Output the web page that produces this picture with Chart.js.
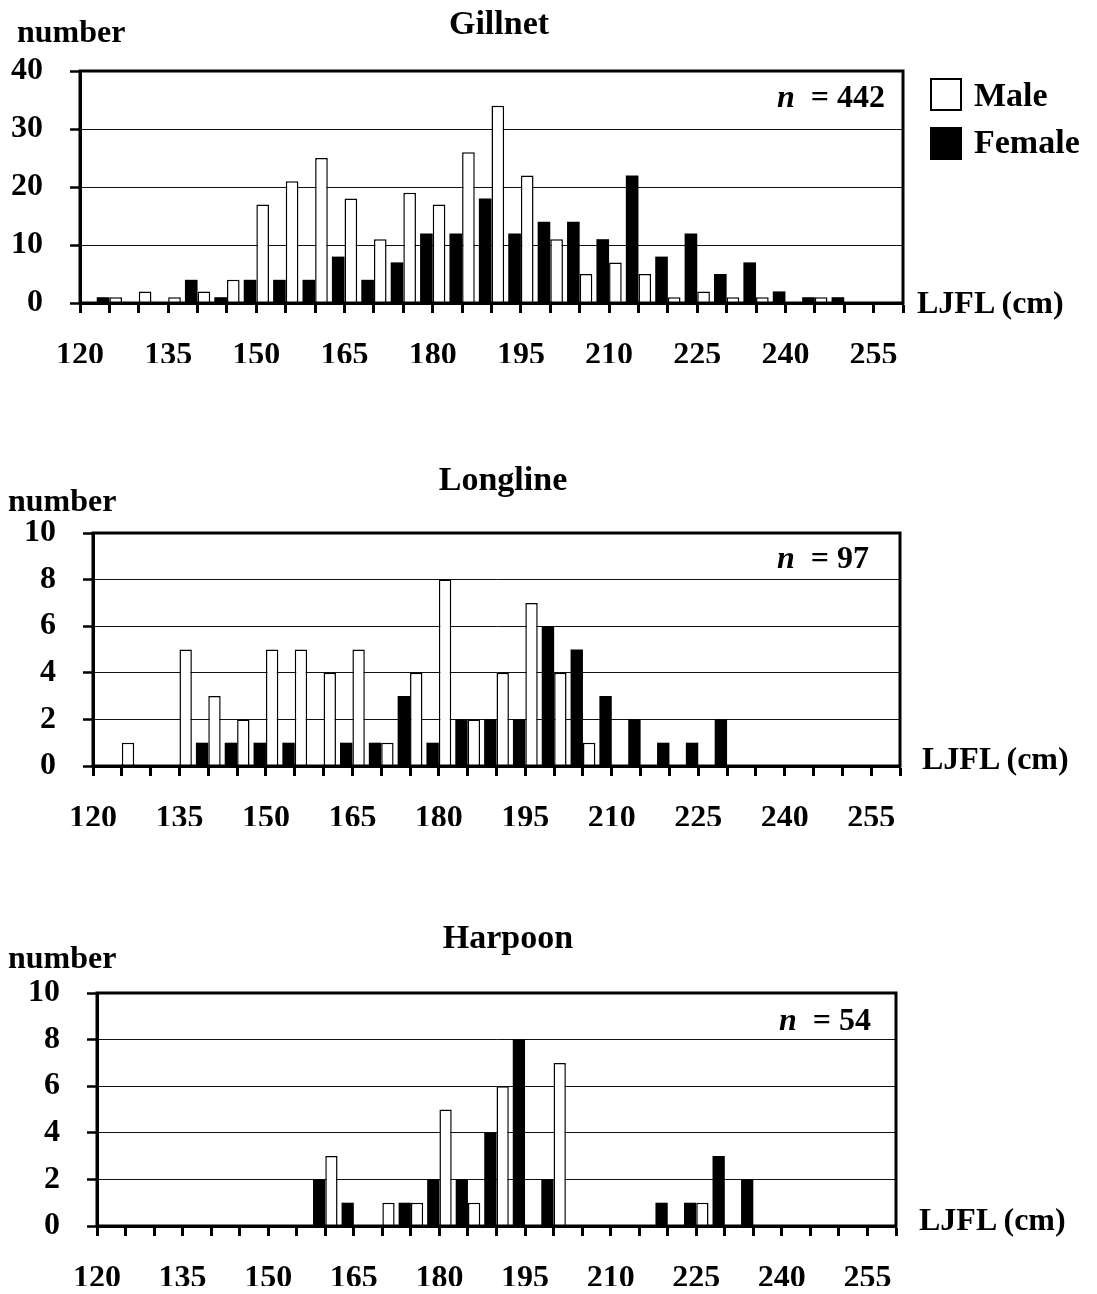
<!DOCTYPE html>
<html>
<head>
<meta charset="utf-8">
<script src="https://cdn.jsdelivr.net/npm/chart.js@4.4.1/dist/chart.umd.min.js"></script>
<style>
  html, body { margin: 0; padding: 0; background: #fff; }
  #wrap { position: relative; width: 1097px; height: 1294px; overflow: hidden; }
  #wrap canvas { position: absolute; left: 0; }
  .lbl { position: absolute; font-family: "Liberation Serif", "Times New Roman", serif; font-weight: bold; font-size: 32px; line-height: 1; white-space: pre; color: #000; }
  .title { font-size: 34px; width: 240px; text-align: center; }
  .key { position: absolute; width: 28px; height: 29px; border: 2px solid #000; }
</style>
</head>
<body>
<div id="wrap">
  <canvas id="gillnetChart" width="1097" height="390" style="top:0px"></canvas>
  <canvas id="longlineChart" width="1097" height="400" style="top:450px"></canvas>
  <canvas id="harpoonChart" width="1097" height="384" style="top:910px"></canvas>

  <div class="lbl title" style="left:379px;top:6px">Gillnet</div>
  <div class="lbl" style="left:17px;top:15px">number</div>
  <div class="lbl" style="right:212px;top:80px"><i>n</i>  = 442</div>
  <div class="lbl" style="left:917px;top:286px">LJFL (cm)</div>
  <div class="key" style="left:930px;top:78px;background:#fff"></div>
  <div class="key" style="left:930px;top:127px;background:#000"></div>
  <div class="lbl" style="left:974px;top:78px;font-size:34px">Male</div>
  <div class="lbl" style="left:974px;top:125px;font-size:34px">Female</div>

  <div class="lbl title" style="left:383px;top:462px">Longline</div>
  <div class="lbl" style="left:8px;top:484px">number</div>
  <div class="lbl" style="right:228px;top:541px"><i>n</i>  = 97</div>
  <div class="lbl" style="left:922px;top:742px">LJFL (cm)</div>

  <div class="lbl title" style="left:388px;top:920px">Harpoon</div>
  <div class="lbl" style="left:8px;top:941px">number</div>
  <div class="lbl" style="right:226px;top:1003px"><i>n</i>  = 54</div>
  <div class="lbl" style="left:919px;top:1203px">LJFL (cm)</div>
</div>

<script>
// length classes (cm, LJFL) – bars sit on the tick of each class
const lengthBins = [125, 130, 135, 140, 145, 150, 155, 160, 165, 170, 175, 180, 185, 190,
                    195, 200, 205, 210, 215, 220, 225, 230, 235, 240, 245, 250, 255];
const xTickLabels = [120, 135, 150, 165, 180, 195, 210, 225, 240, 255];

const gillnetFemale  = [1, 0, 0, 4, 1, 4, 4, 4, 8, 4, 7, 12, 12, 18, 12, 14, 14, 11, 22, 8, 12, 5, 7, 2, 1, 1, 0];
const gillnetMale    = [1, 2, 1, 2, 4, 17, 21, 25, 18, 11, 19, 17, 26, 34, 22, 11, 5, 7, 5, 1, 2, 1, 1, 0, 1, 0, 0];

const longlineFemale = [0, 0, 0, 1, 1, 1, 1, 0, 1, 1, 3, 1, 2, 2, 2, 6, 5, 3, 2, 1, 1, 2, 0, 0, 0, 0, 0];
const longlineMale   = [1, 0, 5, 3, 2, 5, 5, 4, 5, 1, 4, 8, 2, 4, 7, 4, 1, 0, 0, 0, 0, 0, 0, 0, 0, 0, 0];

const harpoonFemale  = [0, 0, 0, 0, 0, 0, 0, 2, 1, 0, 1, 2, 2, 4, 8, 2, 0, 0, 0, 1, 1, 3, 2, 0, 0, 0, 0];
const harpoonMale    = [0, 0, 0, 0, 0, 0, 0, 3, 0, 1, 1, 5, 1, 6, 0, 7, 0, 0, 0, 0, 1, 0, 0, 0, 0, 0, 0];

Chart.defaults.font.family = '"Liberation Serif", "Times New Roman", serif';
Chart.defaults.font.weight = 'bold';
Chart.defaults.font.size = 32;
Chart.defaults.color = '#000';

// thick frame round the plot area, drawn over the bar bottoms like the original
const framePlugin = {
    id: 'frame',
    afterDatasetsDraw(chart) {
        const { ctx, chartArea: a } = chart;
        ctx.save();
        ctx.strokeStyle = '#000';
        ctx.lineWidth = 3;
        ctx.strokeRect(a.left, a.top, a.right - a.left, a.bottom - a.top);
        ctx.restore();
    }
};

function makePanel(id, female, male, yMax, yStep, box) {
    const ctx = document.getElementById(id);
    return new Chart(ctx, {
        type: 'bar',
        data: {
            labels: lengthBins,
            datasets: [
                { label: 'Female', data: female, backgroundColor: '#000', borderColor: '#000', borderWidth: 0 },
                { label: 'Male', data: male, backgroundColor: '#fff', borderColor: '#000', borderWidth: 1.5 }
            ]
        },
        options: {
            responsive: false,
            animation: false,
            devicePixelRatio: 1,
            categoryPercentage: 0.86,
            barPercentage: 1.0,
            layout: { padding: { top: box.top, right: box.right, bottom: box.bottom, left: 0 } },
            plugins: { legend: { display: false }, tooltip: { enabled: false } },
            scales: {
                x: {
                    type: 'linear',
                    min: 120,
                    max: 260,
                    offset: false,
                    afterFit(scale) { scale.height = 60; },
                    grid: {
                        offset: false,
                        drawOnChartArea: false,
                        drawTicks: true,
                        tickLength: 10,
                        tickWidth: 3,
                        tickColor: '#000'
                    },
                    border: { display: true, color: '#000', width: 3 },
                    ticks: {
                        stepSize: 5,
                        autoSkip: false,
                        maxRotation: 0,
                        padding: 24,
                        callback: (v) => xTickLabels.includes(v) ? String(v) : ''
                    }
                },
                y: {
                    min: 0,
                    max: yMax,
                    afterFit(scale) { scale.width = box.left; },
                    grid: {
                        color: '#111',
                        lineWidth: 1,
                        drawTicks: true,
                        tickLength: 10,
                        tickWidth: 2.5,
                        tickColor: '#000'
                    },
                    border: { display: true, color: '#000', width: 3 },
                    ticks: { stepSize: yStep, padding: 27 }
                }
            }
        },
        plugins: [framePlugin]
    });
}

makePanel('gillnetChart', gillnetFemale, gillnetMale, 40, 10, { left: 80, top: 71, right: 194, bottom: 27 });
makePanel('longlineChart', longlineFemale, longlineMale, 10, 2, { left: 93, top: 83, right: 197, bottom: 24 });
makePanel('harpoonChart', harpoonFemale, harpoonMale, 10, 2, { left: 97, top: 83, right: 201, bottom: 8 });
</script>
</body>
</html>
